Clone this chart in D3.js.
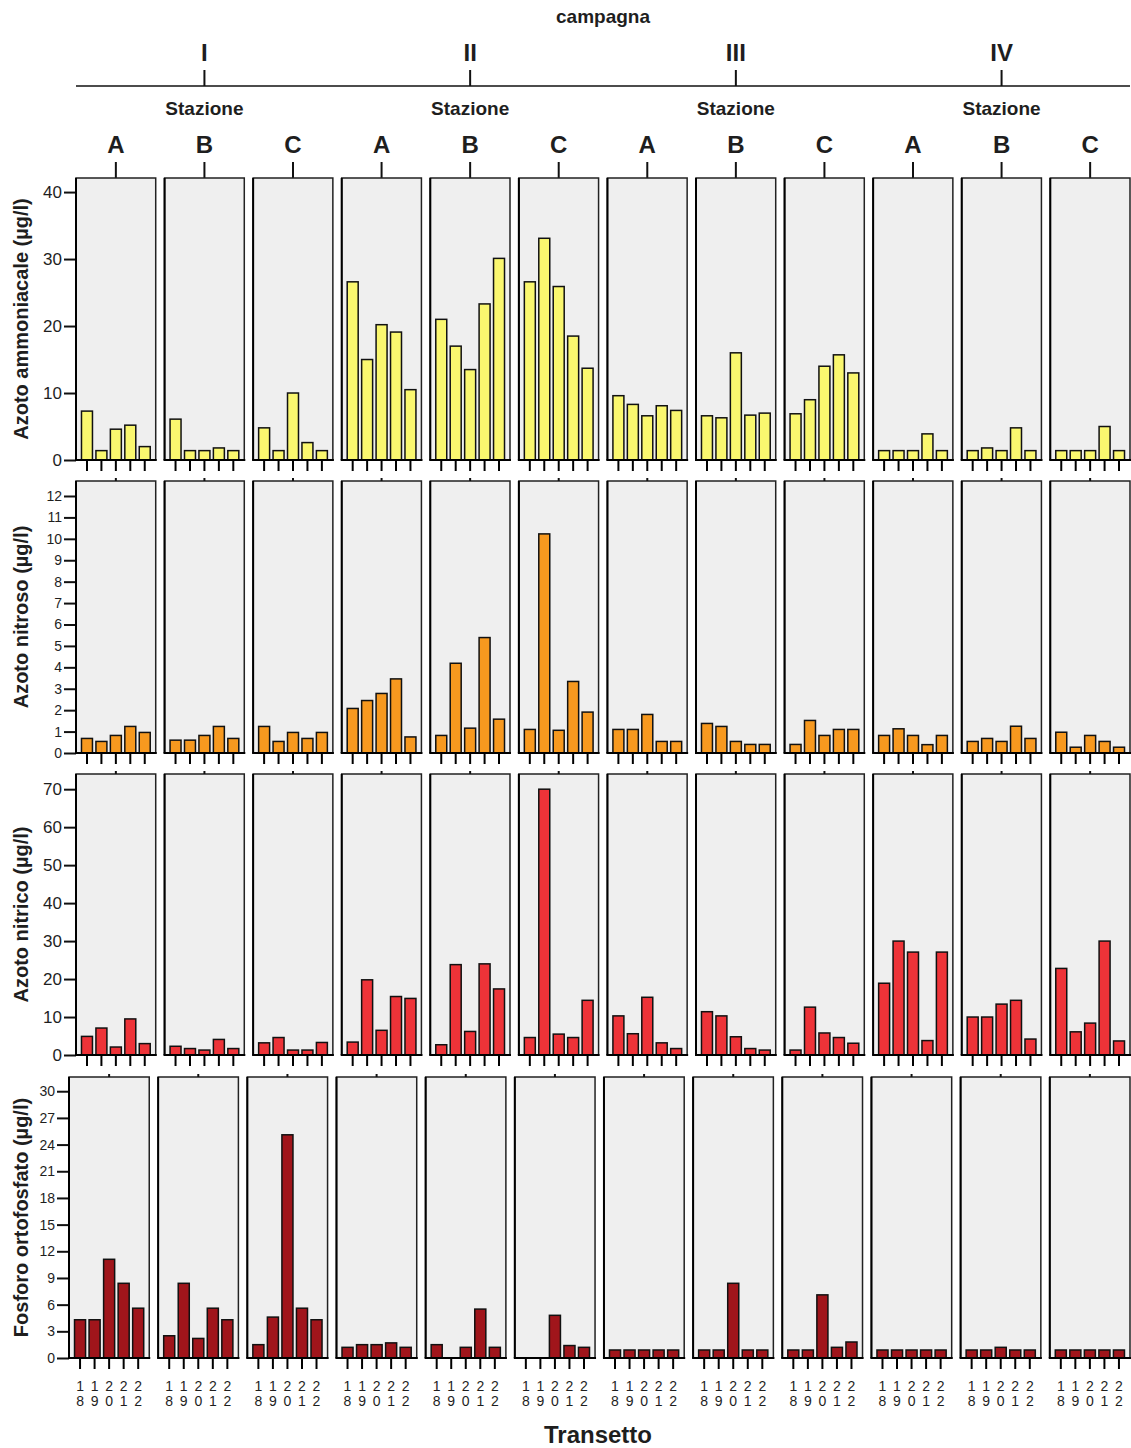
<!DOCTYPE html>
<html>
<head>
<meta charset="utf-8">
<script src="https://cdn.jsdelivr.net/npm/d3@7"></script>
<style>
  html, body { margin: 0; padding: 0; background: #fff; }
  svg { display: block; }
  text { font-family: Arial, "Liberation Sans", sans-serif; fill: #1e1e1e; }
</style>
</head>
<body>
<svg id="chart" width="1131" height="1448"></svg>
<script>
// ---- data -------------------------------------------------------------
const campagne = ["I", "II", "III", "IV"];
const stazioni = ["A", "B", "C"];
const transetti = ["18", "19", "20", "21", "22"];

// one array of five transect values per panel, campagna I..IV x stazione A..C
const ammoniacale = [
  [7.3, 1.4, 4.6, 5.2, 2.0], [6.1, 1.4, 1.4, 1.8, 1.4], [4.8, 1.4, 10.0, 2.6, 1.4],
  [26.6, 15.0, 20.2, 19.1, 10.5], [21.0, 17.0, 13.5, 23.3, 30.1], [26.6, 33.1, 25.9, 18.5, 13.7],
  [9.6, 8.3, 6.6, 8.1, 7.4], [6.6, 6.3, 16.0, 6.7, 7.0], [6.9, 9.0, 14.0, 15.7, 13.0],
  [1.4, 1.4, 1.4, 3.9, 1.4], [1.4, 1.8, 1.4, 4.8, 1.4], [1.4, 1.4, 1.4, 5.0, 1.4]
];
const nitroso = [
  [0.68, 0.54, 0.82, 1.24, 0.96], [0.6, 0.6, 0.82, 1.24, 0.68], [1.24, 0.54, 0.96, 0.68, 0.96],
  [2.08, 2.45, 2.78, 3.46, 0.75], [0.82, 4.19, 1.16, 5.39, 1.58], [1.1, 10.23, 1.06, 3.34, 1.91],
  [1.1, 1.1, 1.8, 0.54, 0.54], [1.38, 1.24, 0.54, 0.4, 0.4], [0.4, 1.52, 0.82, 1.1, 1.1],
  [0.82, 1.13, 0.82, 0.39, 0.82], [0.54, 0.68, 0.54, 1.25, 0.68], [0.97, 0.27, 0.82, 0.54, 0.27]
];
const nitrico = [
  [4.9, 7.1, 2.1, 9.5, 3.0], [2.3, 1.7, 1.3, 4.1, 1.7], [3.2, 4.6, 1.3, 1.3, 3.3],
  [3.4, 19.8, 6.5, 15.4, 14.9], [2.7, 23.8, 6.2, 24.0, 17.4], [4.6, 70.0, 5.5, 4.6, 14.4],
  [10.3, 5.6, 15.2, 3.2, 1.7], [11.4, 10.3, 4.8, 1.7, 1.3], [1.3, 12.6, 5.8, 4.6, 3.1],
  [18.9, 30.0, 27.1, 3.8, 27.1], [10.0, 10.0, 13.4, 14.4, 4.2], [22.8, 6.1, 8.4, 30.0, 3.7]
];
const ortofosfato = [
  [4.3, 4.3, 11.1, 8.4, 5.6], [2.5, 8.4, 2.2, 5.6, 4.3], [1.5, 4.6, 25.1, 5.6, 4.3],
  [1.2, 1.5, 1.5, 1.7, 1.2], [1.5, null, 1.2, 5.5, 1.2], [null, null, 4.8, 1.4, 1.2],
  [0.9, 0.9, 0.9, 0.9, 0.9], [0.9, 0.9, 8.4, 0.9, 0.9], [0.9, 0.9, 7.1, 1.2, 1.8],
  [0.9, 0.9, 0.9, 0.9, 0.9], [0.9, 0.9, 1.2, 0.9, 0.9], [0.9, 0.9, 0.9, 0.9, 0.9]
];

const ticksAmmoniacale = [0, 10, 20, 30, 40];
const ticksNitroso = [0, 1, 2, 3, 4, 5, 6, 7, 8, 9, 10, 11, 12];
const ticksNitrico = [0, 10, 20, 30, 40, 50, 60, 70];
const ticksOrtofosfato = [0, 3, 6, 9, 12, 15, 18, 21, 24, 27, 30];

// ---- layout -----------------------------------------------------------
const rows = [
  { title: "Azoto ammoniacale (µg/l)", values: ammoniacale, ticks: ticksAmmoniacale,
    max: 42.1, top: 178, bottom: 460, left: 76, color: "#faf76f", tickSize: 17 },
  { title: "Azoto nitroso (µg/l)", values: nitroso, ticks: ticksNitroso,
    max: 12.7, top: 481, bottom: 753, left: 76, color: "#f7991f", tickSize: 14 },
  { title: "Azoto nitrico (µg/l)", values: nitrico, ticks: ticksNitrico,
    max: 74, top: 774, bottom: 1055, left: 76, color: "#ee3338", tickSize: 17 },
  { title: "Fosforo ortofosfato (µg/l)", values: ortofosfato, ticks: ticksOrtofosfato,
    max: 31.6, top: 1077, bottom: 1358, left: 69, color: "#a0151b", tickSize: 14 }
];
const right = 1130;
const panelKeys = d3.range(campagne.length * stazioni.length);

const svg = d3.select("#chart");

// panel columns for the header (same as first row)
const headerX = d3.scaleBand().domain(panelKeys).range([76, right]).paddingInner(0.1).paddingOuter(0);

// ---- header: campagna / stazione ---------------------------------------
svg.append("text").attr("x", (76 + right) / 2).attr("y", 23)
  .attr("text-anchor", "middle").attr("font-size", 19).attr("font-weight", "bold")
  .text("campagna");

svg.append("line").attr("x1", 76).attr("x2", right).attr("y1", 86).attr("y2", 86)
  .attr("stroke", "#111").attr("stroke-width", 1.5);

campagne.forEach((c, ci) => {
  const mid = headerX(ci * 3 + 1) + headerX.bandwidth() / 2;
  svg.append("text").attr("x", mid).attr("y", 61).attr("text-anchor", "middle")
    .attr("font-size", 24).attr("font-weight", "bold").text(c);
  svg.append("line").attr("x1", mid).attr("x2", mid).attr("y1", 70).attr("y2", 86)
    .attr("stroke", "#111").attr("stroke-width", 2);
  svg.append("text").attr("x", mid).attr("y", 115).attr("text-anchor", "middle")
    .attr("font-size", 19).attr("font-weight", "bold").text("Stazione");
  stazioni.forEach((s, si) => {
    const cx = headerX(ci * 3 + si) + headerX.bandwidth() / 2;
    svg.append("text").attr("x", cx).attr("y", 153).attr("text-anchor", "middle")
      .attr("font-size", 24).attr("font-weight", "bold").text(s);
    svg.append("line").attr("x1", cx).attr("x2", cx).attr("y1", 162).attr("y2", 178)
      .attr("stroke", "#111").attr("stroke-width", 2);
  });
});

// ---- rows of panels -----------------------------------------------------
rows.forEach((row, ri) => {
  const px = d3.scaleBand().domain(panelKeys).range([row.left, right]).paddingInner(0.1).paddingOuter(0);
  const y = d3.scaleLinear().domain([0, row.max]).range([row.bottom, row.top]);
  const g = svg.append("g");

  // y axis ticks + labels
  const yAxis = d3.axisLeft(y).tickValues(row.ticks).tickSize(12).tickPadding(2).tickFormat(d3.format("d"));
  const ya = g.append("g").attr("transform", `translate(${row.left},0)`).call(yAxis);
  ya.select(".domain").remove();
  ya.selectAll(".tick line").attr("stroke", "#111").attr("stroke-width", 2);
  ya.selectAll(".tick text").attr("font-size", row.tickSize).attr("fill", "#1e1e1e")
    .attr("font-family", "Arial, 'Liberation Sans', sans-serif");

  // y title
  g.append("text")
    .attr("transform", `translate(28,${(row.top + row.bottom) / 2}) rotate(-90)`)
    .attr("text-anchor", "middle").attr("font-size", 20).attr("font-weight", "bold")
    .text(row.title);

  panelKeys.forEach(k => {
    const x0 = px(k), w = px.bandwidth();
    const pg = g.append("g").attr("transform", `translate(${x0},0)`);
    const bx = d3.scaleBand().domain(transetti).range([0, w]).paddingInner(0.24).paddingOuter(0.38);

    pg.append("rect").attr("x", 0).attr("y", row.top).attr("width", w)
      .attr("height", row.bottom - row.top)
      .attr("fill", "#efefef").attr("stroke", "#222").attr("stroke-width", 1.5);

    // small centre tick above the panel (rows below the header)
    if (ri > 0) {
      pg.append("line").attr("x1", w / 2).attr("x2", w / 2).attr("y1", row.top - 3).attr("y2", row.top)
        .attr("stroke", "#111").attr("stroke-width", 2);
    }

    const vals = row.values[k].map((v, i) => ({ t: transetti[i], v }));
    pg.selectAll("rect.bar").data(vals.filter(d => d.v != null)).join("rect")
      .attr("class", "bar")
      .attr("x", d => bx(d.t)).attr("width", bx.bandwidth())
      .attr("y", d => y(d.v)).attr("height", d => y(0) - y(d.v))
      .attr("fill", row.color).attr("stroke", "#111").attr("stroke-width", 1.5);

    // heavy left/bottom frame
    pg.append("line").attr("x1", 0).attr("x2", 0).attr("y1", row.top).attr("y2", row.bottom)
      .attr("stroke", "#000").attr("stroke-width", 2);
    pg.append("line").attr("x1", -1).attr("x2", w + 1).attr("y1", row.bottom).attr("y2", row.bottom)
      .attr("stroke", "#000").attr("stroke-width", 2);

    // transect ticks below the panel
    const xAxis = d3.axisBottom(bx).tickSize(11).tickFormat("");
    const xa = pg.append("g").attr("transform", `translate(0,${row.bottom})`).call(xAxis);
    xa.select(".domain").remove();
    xa.selectAll(".tick line").attr("stroke", "#000").attr("stroke-width", 2);

    // stacked digit labels on the last row
    if (ri === rows.length - 1) {
      transetti.forEach(t => {
        const cx = bx(t) + bx.bandwidth() / 2;
        const lab = pg.append("text").attr("text-anchor", "middle").attr("font-size", 14);
        lab.append("tspan").attr("x", cx).attr("y", 1391).text(t[0]);
        lab.append("tspan").attr("x", cx).attr("y", 1406).text(t[1]);
      });
    }
  });
});

svg.append("text").attr("x", 598).attr("y", 1443).attr("text-anchor", "middle")
  .attr("font-size", 24).attr("font-weight", "bold").text("Transetto");
</script>
</body>
</html>
